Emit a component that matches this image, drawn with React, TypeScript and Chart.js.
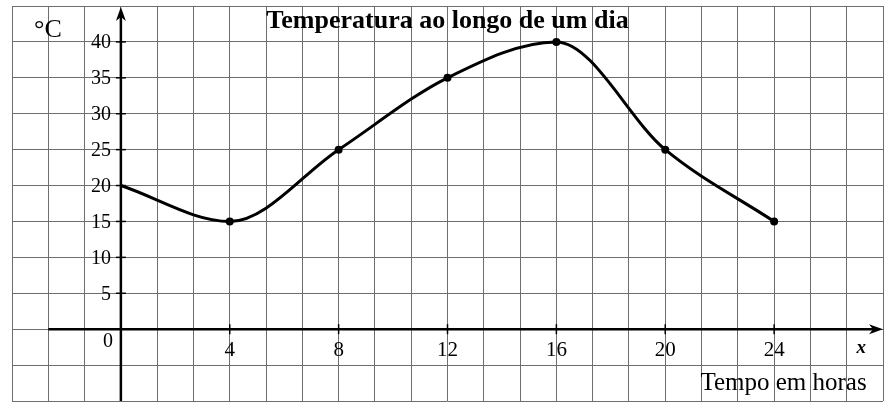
import React, { useEffect, useRef } from "react";
import { Chart, registerables } from "chart.js";

Chart.register(...registerables);

const hours = [0, 4, 8, 12, 16, 20, 24];
const temps = [20, 15, 25, 35, 40, 25, 15];
const xTickLabels = [4, 8, 12, 16, 20, 24];
const yTickLabels = [5, 10, 15, 20, 25, 30, 35, 40];
const titleText = "Temperatura ao longo de um dia";
const xAxisName = "Tempo em horas";
const yUnit = "°C";

const FONT = "'Liberation Serif', 'DejaVu Serif', serif";

const overlayPlugin = {
  id: "overlay",
  beforeDatasetsDraw(chart: any) {
    const ctx = chart.ctx;
    const xs = chart.scales.x;
    const ys = chart.scales.y;
    const x0 = xs.getPixelForValue(0);
    const y0 = ys.getPixelForValue(0);
    ctx.save();
    ctx.strokeStyle = "#000";
    ctx.fillStyle = "#000";
    ctx.lineWidth = 2.5;
    // x axis
    const xStart = xs.getPixelForValue(-8 / 3);
    const xEnd = xs.getPixelForValue(28);
    ctx.beginPath();
    ctx.moveTo(xStart, y0);
    ctx.lineTo(xEnd - 10, y0);
    ctx.stroke();
    ctx.beginPath();
    ctx.moveTo(xEnd, y0);
    ctx.lineTo(xEnd - 14, y0 - 5);
    ctx.lineTo(xEnd - 10, y0);
    ctx.lineTo(xEnd - 14, y0 + 5);
    ctx.closePath();
    ctx.fill();
    // y axis
    const yBottom = ys.getPixelForValue(-10);
    const yTop = ys.getPixelForValue(45) + 1;
    ctx.beginPath();
    ctx.moveTo(x0, yBottom);
    ctx.lineTo(x0, yTop + 10);
    ctx.stroke();
    ctx.beginPath();
    ctx.moveTo(x0, yTop);
    ctx.lineTo(x0 - 5, yTop + 14);
    ctx.lineTo(x0, yTop + 10);
    ctx.lineTo(x0 + 5, yTop + 14);
    ctx.closePath();
    ctx.fill();
    // tick marks
    ctx.lineWidth = 1.5;
    yTickLabels.forEach((v) => {
      const py = ys.getPixelForValue(v);
      ctx.beginPath();
      ctx.moveTo(x0 - 5, py);
      ctx.lineTo(x0 + 5, py);
      ctx.stroke();
    });
    xTickLabels.forEach((v) => {
      const px = xs.getPixelForValue(v);
      ctx.beginPath();
      ctx.moveTo(px, y0 - 5);
      ctx.lineTo(px, y0 + 5);
      ctx.stroke();
    });
    ctx.restore();
  },
  afterDraw(chart: any) {
    const ctx = chart.ctx;
    const xs = chart.scales.x;
    const ys = chart.scales.y;
    const x0 = xs.getPixelForValue(0);
    const y0 = ys.getPixelForValue(0);
    ctx.save();
    ctx.fillStyle = "#000";
    ctx.textBaseline = "middle";
    ctx.font = `20px ${FONT}`;
    ctx.textAlign = "right";
    yTickLabels.forEach((v) => {
      ctx.fillText(String(v), x0 - 10, ys.getPixelForValue(v) + 1);
    });
    ctx.textAlign = "center";
    ctx.fillText("0", x0 - 13, y0 + 13);
    ctx.font = `21px ${FONT}`;
    xTickLabels.forEach((v) => {
      ctx.fillText(String(v), xs.getPixelForValue(v), y0 + 21);
    });
    ctx.font = `italic bold 19px ${FONT}`;
    ctx.fillText("x", xs.getPixelForValue(27.2), y0 + 19);
    ctx.font = `25px ${FONT}`;
    ctx.textAlign = "right";
    ctx.fillText(xAxisName, xs.getPixelForValue(27.4), ys.getPixelForValue(-7.5));
    ctx.textAlign = "center";
    ctx.font = `26px ${FONT}`;
    ctx.fillText(yUnit, xs.getPixelForValue(-2.68), ys.getPixelForValue(41.7));
    ctx.font = `bold 26px ${FONT}`;
    ctx.fillText(titleText, xs.getPixelForValue(12), ys.getPixelForValue(42.9));
    ctx.restore();
  },
};

export default function App() {
  const ref = useRef<HTMLCanvasElement | null>(null);
  useEffect(() => {
    if (!ref.current) return;
    const chart = new Chart(ref.current, {
      type: "line",
      data: {
        datasets: [
          {
            data: hours.map((h, i) => ({ x: h, y: temps[i] })),
            borderColor: "#000",
            backgroundColor: "#000",
            borderWidth: 3,
            pointRadius: hours.map((h) => (h === 0 ? 0 : 4)),
            pointBorderWidth: 0,
            cubicInterpolationMode: "monotone",
            fill: false,
          },
        ],
      },
      options: {
        responsive: false,
        animation: false,
        layout: { padding: { left: 12, right: 6, top: 6, bottom: 3 } },
        plugins: { legend: { display: false }, tooltip: { enabled: false }, title: { display: false } },
        scales: {
          x: {
            type: "linear",
            min: -4,
            max: 28,
            afterBuildTicks: (s: any) => {
              const t = [];
              for (let k = 0; k <= 24; k++) t.push({ value: -4 + (k * 4) / 3 });
              s.ticks = t;
            },
            afterFit: (s: any) => {
              s.height = 0;
            },
            ticks: { display: false },
            border: { display: false },
            grid: { color: "#6e6e6e", lineWidth: 1, drawTicks: false },
          },
          y: {
            type: "linear",
            min: -10,
            max: 45,
            ticks: { display: false, stepSize: 5 },
            afterFit: (s: any) => {
              s.width = 0;
            },
            border: { display: false },
            grid: { color: "#6e6e6e", lineWidth: 1, drawTicks: false },
          },
        },
      },
      plugins: [overlayPlugin],
    });
    return () => chart.destroy();
  }, []);
  return (
    <div style={{ position: "fixed", left: 0, top: 0, width: 889, height: 405, background: "#fff" }}>
      <canvas ref={ref} width={889} height={405} />
    </div>
  );
}
